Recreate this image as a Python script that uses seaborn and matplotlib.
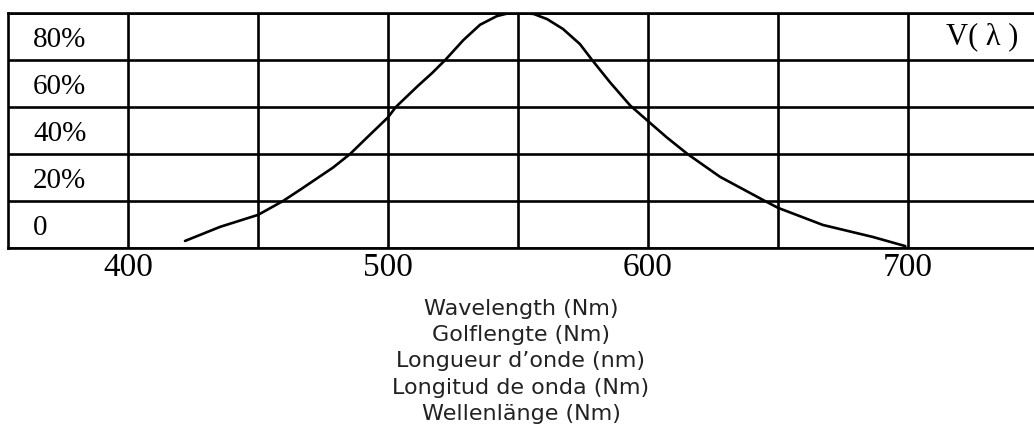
import matplotlib
matplotlib.use("Agg")
import matplotlib.pyplot as plt
import seaborn as sns
import pandas as pd

# ---- data ----
wavelength_nm = [421.9, 435.4, 450.0, 459.6, 466.2, 478.8, 485.4, 491.9, 500.0,
                 503.0, 511.5, 517.0, 522.0, 529.0, 535.4, 541.9, 546.0, 551.0,
                 556.0, 561.2, 567.3, 573.8, 578.5, 585.4, 593.1, 600.0, 607.3,
                 615.2, 627.7, 645.0, 650.0, 667.3, 686.5, 699.0]
v_lambda_pct = [3.0, 9.0, 14.1, 20.0, 24.8, 34.2, 40.0, 47.0, 55.6,
                60.0, 69.0, 74.5, 80.0, 88.5, 95.0, 98.7, 99.8, 100.0,
                99.6, 97.4, 93.2, 86.8, 80.0, 70.5, 60.7, 54.0, 47.0,
                40.0, 30.3, 20.0, 17.1, 9.8, 4.7, 0.8]

x_tick_values = [400, 500, 600, 700]
x_tick_labels = ["400", "500", "600", "700"]
x_grid_minor = [450, 550, 650]
y_grid_values = [0, 20, 40, 60, 80, 100]
y_label_positions = [10, 30, 50, 70, 90]
y_label_texts = ["0", "20%", "40%", "60%", "80%"]
curve_label = "V( λ )"
xlabel_lines = ["Wavelength (Nm)", "Golflengte (Nm)", "Longueur d\u2019onde (nm)",
                "Longitud de onda (Nm)", "Wellenlänge (Nm)"]

df = pd.DataFrame({"nm": wavelength_nm, "v": v_lambda_pct})

sns.set_theme(style="white")
plt.rcParams["font.family"] = ["DejaVu Sans"]

fig = plt.figure(figsize=(10.34, 4.30), dpi=100)
ax = fig.add_axes([8 / 1034, 1 - 248 / 430, 1 - 8 / 1034, (248 - 13) / 430])

lw = 1.9
sns.lineplot(data=df, x="nm", y="v", ax=ax, color="black", linewidth=lw,
             sort=False, legend=False)

ax.set_xlim(353.8, 748.5)
ax.set_ylim(0, 100)

ax.set_xticks(x_tick_values)
ax.set_xticklabels(x_tick_labels, family="Liberation Serif", fontsize=24, color="black")
ax.set_xticks(x_grid_minor, minor=True)
ax.set_yticks(y_grid_values)
ax.set_yticklabels([])
ax.set_yticks(y_label_positions, minor=True)
ax.set_yticklabels(y_label_texts, minor=True, family="Liberation Serif",
                   fontsize=21, color="black")
for lbl in ax.get_yticklabels(minor=True):
    lbl.set_horizontalalignment("left")
ax.tick_params(axis="y", which="both", length=0, pad=-18)
ax.tick_params(axis="x", which="both", length=0, pad=3)

ax.grid(True, which="major", axis="both", color="black", linewidth=lw)
ax.grid(True, which="minor", axis="x", color="black", linewidth=lw)
ax.set_axisbelow(True)

for side in ["left", "top", "bottom"]:
    ax.spines[side].set_visible(True)
    ax.spines[side].set_color("black")
    ax.spines[side].set_linewidth(lw)
ax.spines["right"].set_visible(False)

ax.text(0.985, 90, curve_label, transform=ax.get_yaxis_transform(), ha="right",
        va="center", family="Liberation Serif", fontsize=22, color="black")

ax.set_xlabel("\n".join(xlabel_lines), fontsize=16, color="#222222",
              linespacing=1.38, labelpad=12)
ax.set_ylabel("")

fig.savefig("out.png", dpi=100, facecolor="white")
